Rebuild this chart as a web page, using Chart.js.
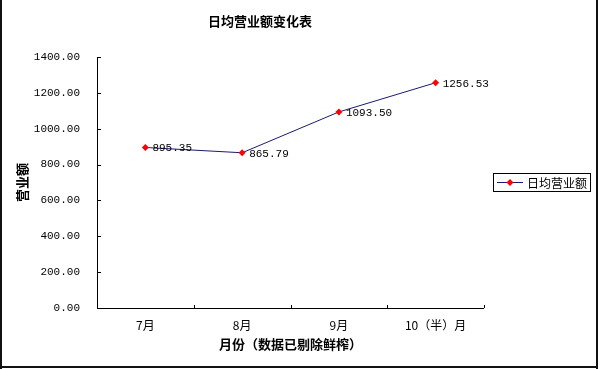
<!DOCTYPE html>
<html><head><meta charset="utf-8">
<script src="https://cdn.jsdelivr.net/npm/chart.js@4/dist/chart.umd.min.js"></script>
<style>html,body{margin:0;padding:0;background:#fff}#wrap{width:600px;height:369px}</style>
</head><body><div id="wrap"><canvas id="c" width="600" height="369"></canvas></div>
<script>
const categories = ['7月', '8月', '9月', '10（半）月'];
const seriesName = '日均营业额';
const values = [895.35, 865.79, 1093.50, 1256.53];
const yTicks = [0, 200, 400, 600, 800, 1000, 1200, 1400];
const chartTitle = '日均营业额变化表';
const xTitle = '月份（数据已剔除鲜榨）';
const yTitle = '营业额';

const CJK = '"Noto Sans CJK SC", sans-serif';
const MONO = '"Liberation Mono", "DejaVu Sans Mono", monospace';
const LEFT = 97, RIGHT = 484, TOP = 57, BOTTOM = 308;

const deco = {
  id: 'deco',
  afterDraw(chart) {
    const ctx = chart.ctx;
    const x = chart.scales.x, y = chart.scales.y;
    const ca = chart.chartArea;
    ctx.save();
    // axes
    ctx.strokeStyle = '#000'; ctx.lineWidth = 1;
    ctx.beginPath();
    ctx.moveTo(ca.left + 0.5, ca.top); ctx.lineTo(ca.left + 0.5, ca.bottom + 0.5);
    ctx.lineTo(ca.right, ca.bottom + 0.5);
    ctx.stroke();
    // y ticks inside
    ctx.beginPath();
    yTicks.forEach(v => { const py = Math.round(y.getPixelForValue(v)) + 0.5; ctx.moveTo(ca.left, py); ctx.lineTo(ca.left + 4, py); });
    // x ticks inside (category boundaries)
    for (let i = 0; i <= categories.length; i++) {
      const px = Math.round(ca.left + (ca.right - ca.left) * i / categories.length) + 0.5;
      ctx.moveTo(px, ca.bottom); ctx.lineTo(px, ca.bottom - 3);
    }
    ctx.stroke();
    // data labels
    ctx.fillStyle = '#000'; ctx.font = '11px ' + MONO;
    ctx.textAlign = 'left'; ctx.textBaseline = 'middle';
    const meta = chart.getDatasetMeta(0);
    meta.data.forEach((pt, i) => { ctx.fillText(values[i].toFixed(2), pt.x + 7, pt.y + 1); });
    // titles
    ctx.font = 'bold 13px ' + CJK; ctx.textAlign = 'center';
    ctx.fillText(chartTitle, 260, 21);
    ctx.fillText(xTitle, (ca.left + ca.right) / 2, 344);
    ctx.save(); ctx.translate(22, (ca.top + ca.bottom) / 2); ctx.rotate(-Math.PI / 2);
    ctx.fillText(yTitle, 0, 0); ctx.restore();
    // legend
    ctx.strokeStyle = '#000'; ctx.lineWidth = 1;
    ctx.strokeRect(493.5, 173.5, 97, 18);
    ctx.strokeStyle = '#1a1a6e'; ctx.beginPath(); ctx.moveTo(497, 182.5); ctx.lineTo(523, 182.5); ctx.stroke();
    ctx.fillStyle = '#ff0000'; ctx.beginPath();
    ctx.moveTo(510, 179); ctx.lineTo(513.5, 182.5); ctx.lineTo(510, 186); ctx.lineTo(506.5, 182.5); ctx.closePath(); ctx.fill();
    ctx.fillStyle = '#000'; ctx.font = '12px ' + CJK; ctx.textAlign = 'left';
    ctx.fillText(seriesName, 527, 183);
    // frame
    ctx.fillStyle = '#111';
    ctx.fillRect(0, 0, 2, 369);
    ctx.fillRect(596, 0, 2, 369);
    ctx.fillRect(0, 366, 598, 2);
    ctx.restore();
  }
};

new Chart(document.getElementById('c'), {
  type: 'line',
  data: { labels: categories, datasets: [{
    label: seriesName, data: values,
    borderColor: '#1a1a6e', borderWidth: 1, tension: 0,
    pointStyle: 'rectRot', pointRadius: 3.5, pointBackgroundColor: '#ff0000', pointBorderColor: '#ff0000', pointBorderWidth: 0
  }]},
  options: {
    responsive: false, animation: false, devicePixelRatio: 1,
    layout: { padding: { top: TOP, right: 600 - RIGHT, bottom: 0, left: 0 } },
    plugins: { legend: { display: false }, tooltip: { enabled: false }, title: { display: false } },
    scales: {
      x: {
        type: 'category', offset: true,
        grid: { display: false, drawTicks: false }, border: { display: false },
        ticks: { color: '#000', font: { family: CJK, size: 12 }, padding: 10, maxRotation: 0, autoSkip: false },
        afterFit(s) { s.height = 369 - BOTTOM; }
      },
      y: {
        min: 0, max: 1400,
        afterBuildTicks(s) { s.ticks = yTicks.map(v => ({ value: v })); },
        grid: { display: false, drawTicks: false }, border: { display: false },
        ticks: { color: '#000', font: { family: MONO, size: 11 }, padding: 17, callback: v => Number(v).toFixed(2) },
        afterFit(s) { s.width = LEFT; }
      }
    }
  },
  plugins: [deco]
});
</script></body></html>
